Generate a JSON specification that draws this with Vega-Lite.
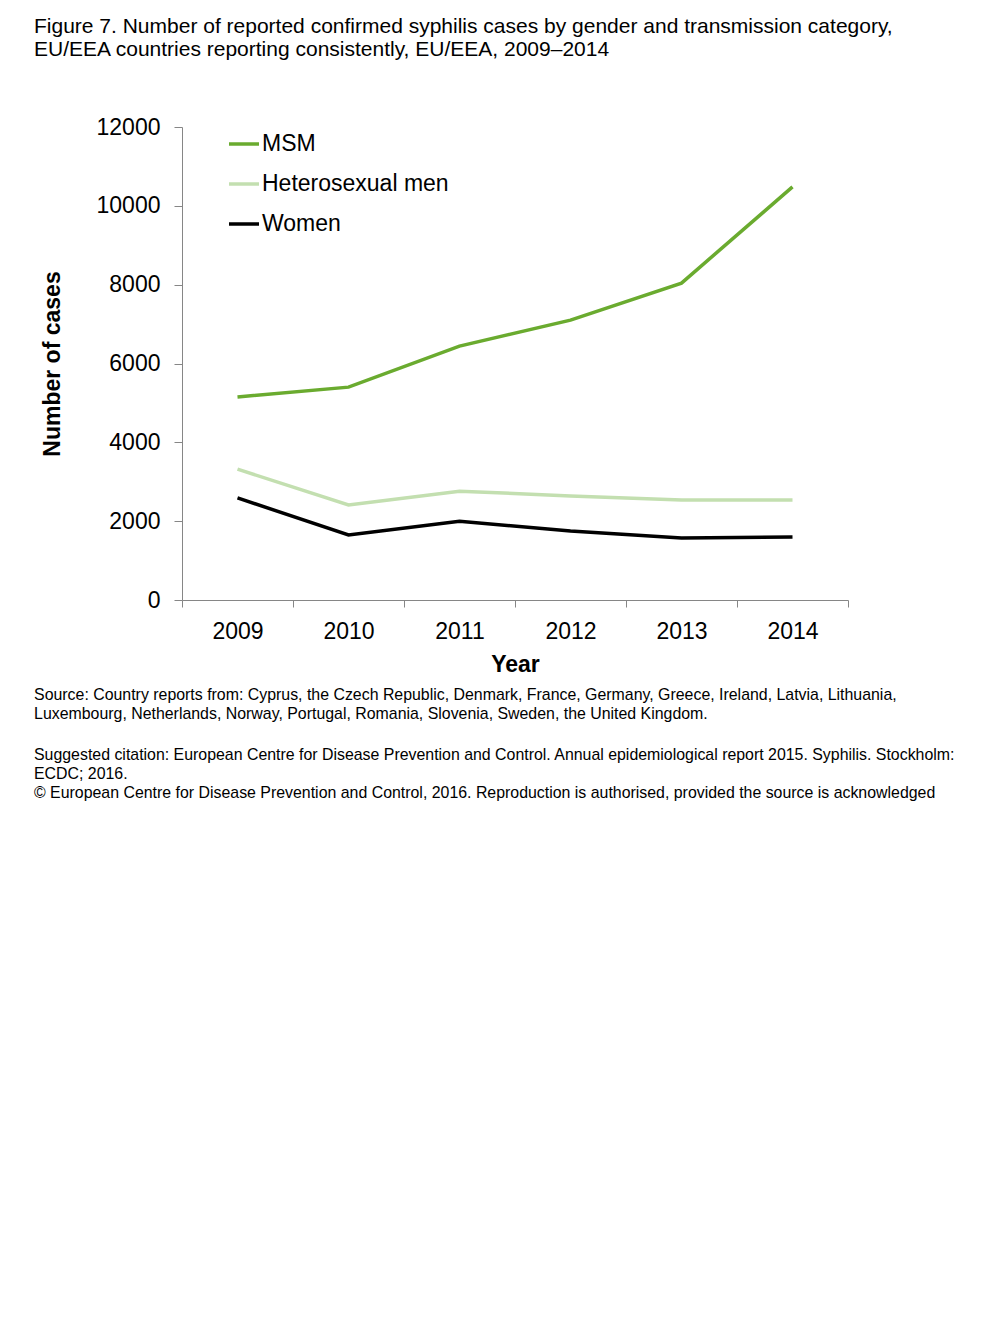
{
  "$schema": "https://vega.github.io/schema/vega-lite/v6.json",
  "background": "white",
  "padding": {"left": 34, "top": 16, "right": 10, "bottom": 10},
  "config": {"font": "Liberation Sans", "view": {"stroke": null}},
  "title": {
    "text": ["Figure 7. Number of reported confirmed syphilis cases by gender and transmission category,", "EU/EEA countries reporting consistently, EU/EEA, 2009\u20132014"],
    "anchor": "start", "frame": "bounds", "fontSize": 21, "fontWeight": "normal", "font": "Liberation Sans", "color": "black", "lineHeight": 23, "offset": 56
  },
  "spacing": 25,
  "vconcat": [
    {
      "width": 666,
      "height": 473,
      "title": {
        "text": [
          "Source: Country reports from: Cyprus, the Czech Republic, Denmark, France, Germany, Greece, Ireland, Latvia, Lithuania,",
          "Luxembourg, Netherlands, Norway, Portugal, Romania, Slovenia, Sweden, the United Kingdom."
        ],
        "orient": "bottom", "anchor": "start", "frame": "bounds", "dx": -7, "fontSize": 15.9, "fontWeight": "normal", "lineHeight": 19, "offset": 11, "color": "black", "baseline": "top"
      },
      "data": {
        "values": [
          {"year": "2009", "series": "MSM", "cases": 5150},
          {"year": "2010", "series": "MSM", "cases": 5400},
          {"year": "2011", "series": "MSM", "cases": 6440},
          {"year": "2012", "series": "MSM", "cases": 7100},
          {"year": "2013", "series": "MSM", "cases": 8040},
          {"year": "2014", "series": "MSM", "cases": 10480},
          {"year": "2009", "series": "Heterosexual men", "cases": 3320},
          {"year": "2010", "series": "Heterosexual men", "cases": 2410},
          {"year": "2011", "series": "Heterosexual men", "cases": 2760},
          {"year": "2012", "series": "Heterosexual men", "cases": 2640},
          {"year": "2013", "series": "Heterosexual men", "cases": 2540},
          {"year": "2014", "series": "Heterosexual men", "cases": 2540},
          {"year": "2009", "series": "Women", "cases": 2590},
          {"year": "2010", "series": "Women", "cases": 1650},
          {"year": "2011", "series": "Women", "cases": 2000},
          {"year": "2012", "series": "Women", "cases": 1750},
          {"year": "2013", "series": "Women", "cases": 1570},
          {"year": "2014", "series": "Women", "cases": 1600}
        ]
      },
      "mark": {"type": "line", "strokeWidth": 3.5},
      "encoding": {
        "x": {
          "field": "year", "type": "ordinal", "title": "Year",
          "scale": {"paddingInner": 0, "paddingOuter": 0},
          "axis": {
            "labelAngle": 0, "tickBand": "extent", "labelFontSize": 23, "labelColor": "black", "labelPadding": 13,
            "tickSize": 7, "tickColor": "#868686", "domainColor": "#868686",
            "titleFontSize": 23, "titleFontWeight": "bold", "titleColor": "black", "titlePadding": 10, "grid": false
          }
        },
        "y": {
          "field": "cases", "type": "quantitative", "title": "Number of cases",
          "scale": {"domain": [0, 12000], "nice": false},
          "axis": {
            "values": [0, 2000, 4000, 6000, 8000, 10000, 12000], "format": "d", "grid": false,
            "labelFontSize": 23, "labelColor": "black", "labelPadding": 14, "tickSize": 8,
            "tickColor": "#868686", "domainColor": "#868686",
            "titleFontSize": 23, "titleFontWeight": "bold", "titleColor": "black", "titlePadding": 32
          }
        },
        "color": {
          "field": "series", "type": "nominal",
          "scale": {"domain": ["MSM", "Heterosexual men", "Women"], "range": ["#6AAB2F", "#C3DFB0", "#000000"]},
          "legend": {
            "orient": "none", "legendX": 45, "legendY": 0, "title": null, "symbolType": "stroke",
            "symbolSize": 900, "symbolStrokeWidth": 3.5, "labelFontSize": 23, "labelColor": "black",
            "labelOffset": 1, "rowPadding": 11, "labelLimit": 0
          }
        }
      }
    },
    {
      "width": 666,
      "height": 1,
      "title": {
        "text": [
          "Suggested citation: European Centre for Disease Prevention and Control. Annual epidemiological report 2015. Syphilis. Stockholm:",
          "ECDC; 2016.",
          "\u00a9 European Centre for Disease Prevention and Control, 2016. Reproduction is authorised, provided the source is acknowledged"
        ],
        "orient": "top", "anchor": "start", "frame": "bounds", "dx": -148, "fontSize": 15.9, "fontWeight": "normal", "lineHeight": 19, "offset": 0, "color": "black"
      },
      "data": {"values": []},
      "mark": {"type": "point"},
      "encoding": {}
    }
  ]
}
